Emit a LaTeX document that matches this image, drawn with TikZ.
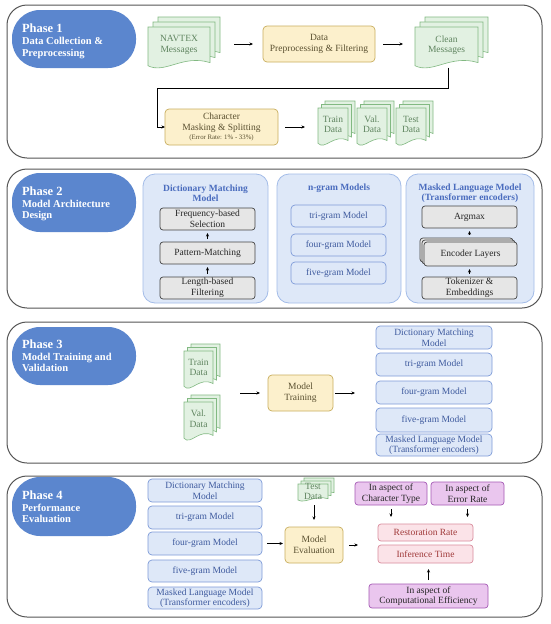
\documentclass[tikz,border=0pt]{standalone}
\usepackage{fontspec}
\setmainfont{Liberation Serif}
\usetikzlibrary{arrows.meta}
\definecolor{pillc}{HTML}{5B86CE}
\definecolor{frame}{HTML}{555555}
\definecolor{yfill}{HTML}{FCF0CC}
\definecolor{ydraw}{HTML}{C9AE5E}
\definecolor{ytext}{HTML}{5A5030}
\definecolor{dfill}{HTML}{E2F1E2}
\definecolor{ddraw}{HTML}{82B982}
\definecolor{dtext}{HTML}{5F845F}
\definecolor{cfill}{HTML}{DEE8F8}
\definecolor{cdraw}{HTML}{A3BCE8}
\definecolor{ctext}{HTML}{4A6CBE}
\definecolor{bdraw}{HTML}{7E9BD8}
\definecolor{btext}{HTML}{3E5A9E}
\definecolor{gfill}{HTML}{E6E6E6}
\definecolor{gdraw}{HTML}{444444}
\definecolor{pfill}{HTML}{FBE3E8}
\definecolor{pdraw}{HTML}{D98C9C}
\definecolor{ptext}{HTML}{A03A3A}
\definecolor{vfill}{HTML}{EAC6EE}
\definecolor{vdraw}{HTML}{A559B5}
\tikzset{
  base/.style={inner sep=0pt, outer sep=0pt, align=center, font=\fontsize{9.5}{11}\selectfont},
  phasebox/.style={draw=frame, line width=1pt, rounded corners=20pt},
  pill/.style={base, fill=pillc, rounded corners=28pt},
  phtitle/.style={inner sep=0pt, outer sep=0pt, text=white, font=\fontsize{12.5}{14}\bfseries\selectfont, anchor=base west},
  phsub/.style={inner sep=0pt, outer sep=0pt, text=white, align=left, font=\fontsize{10.5}{11.5}\bfseries\selectfont, anchor=base west},
  ybox/.style={base, fill=yfill, draw=ydraw, line width=0.7pt, rounded corners=4pt, text=ytext},
  cont/.style={base, fill=cfill, draw=cdraw, line width=0.8pt, rounded corners=12pt},
  ctitle/.style={base, text=ctext, font=\fontsize{9.5}{10.5}\bfseries\selectfont},
  gbox/.style={base, fill=gfill, draw=gdraw, line width=0.7pt, rounded corners=3pt, text=black!85},
  nbox/.style={base, fill=cfill, draw=bdraw, line width=0.7pt, rounded corners=4pt, text=btext},
  mbox/.style={base, fill=cfill, draw=bdraw, line width=0.7pt, rounded corners=4pt, text=btext, font=\fontsize{9.5}{10.5}\selectfont},
  pkbox/.style={base, fill=pfill, draw=pdraw, line width=0.7pt, rounded corners=3pt, text=ptext},
  vbox/.style={base, fill=vfill, draw=vdraw, line width=0.7pt, rounded corners=3pt, text=black!85, font=\fontsize{9.5}{10.5}\selectfont},
  docst/.style={fill=dfill, draw=ddraw, line width=0.6pt},
  doctext/.style={base, text=dtext, font=\fontsize{9.5}{10.5}\selectfont},
  inv/.style={inner sep=0pt, outer sep=0pt},
  arr/.style={-{Stealth[length=3.5pt,width=3pt]}, line width=0.6pt, black},
}
\newcommand\bx[7]{\node[#2, minimum width={#5-#3}, minimum height={#6-#4}] (#1) at ({(#3+#5)/2},{(#4+#6)/2}) {#7};}
\newcommand\docpage[4]{\draw[docst] (#1,#2) -- ({#1+#3},#2) -- ({#1+#3},{#2+0.86*#4}) .. controls ({#1+0.62*#3},{#2+0.70*#4}) and ({#1+0.38*#3},{#2+1.08*#4}) .. (#1,{#2+0.92*#4}) -- cycle;}
\newcommand\docstack[7]{%
  \docpage{#2+2*#6}{#3}{#4-2*#6}{#5-2*#6}%
  \docpage{#2+#6}{#3+#6}{#4-2*#6}{#5-2*#6}%
  \docpage{#2}{#3+2*#6}{#4-2*#6}{#5-2*#6}%
  \node[inv, minimum width={#4}, minimum height={#5}] (#1) at ({#2+#4/2},{#3+#5/2}) {};
  \node[doctext] (#1-t) at ({#2+(#4-2*#6)/2},{#3+2*#6+0.42*(#5-2*#6)}) {#7};}
\begin{document}
\begin{tikzpicture}[x=1pt,y=-1pt]
\useasboundingbox[fill=white] (0,0) rectangle (550,624);
% ---------------- Phase frames
\draw[phasebox] (7,5) rectangle (542,158);
\draw[phasebox] (7,169) rectangle (542,308);
\draw[phasebox] (7,322) rectangle (542,463);
\draw[phasebox] (7,476) rectangle (542,617);
% ---------------- Pills
\bx{pill1}{pill}{12}{10}{136}{68}{}
\node[phtitle] (pt1) at (22,32) {Phase 1};
\node[phsub] (ps1) at (22,56) {Data Collection \&\\Preprocessing};
\bx{pill2}{pill}{12}{173}{136}{232}{}
\node[phtitle] (pt2) at (22,195) {Phase 2};
\node[phsub] (ps2) at (22,218.5) {Model Architecture\\Design};
\bx{pill3}{pill}{12}{327}{136}{385}{}
\node[phtitle] (pt3) at (22,348) {Phase 3};
\node[phsub] (ps3) at (22,371.5) {Model Training and\\Validation};
\bx{pill4}{pill}{12}{477}{136}{536}{}
\node[phtitle] (pt4) at (22,499) {Phase 4};
\node[phsub] (ps4) at (22,522.5) {Performance\\Evaluation};
% ---------------- Phase 1
\docstack{navtex}{148}{17}{72}{53}{5}{NAVTEX\\Messages}
\bx{prep}{ybox}{263}{26}{375}{62}{Data\\Preprocessing \& Filtering}
\docstack{clean}{415}{17}{73}{53}{5}{Clean\\Messages}
\bx{charb}{ybox}{165}{109}{278}{145}{Character\\Masking \& Splitting\\[-1.5pt]{\fontsize{6.8}{8}\selectfont (Error Rate: 1\% - 33\%)}}
\docstack{train1}{318}{101}{37}{46}{3.5}{Train\\Data}
\docstack{val1}{357}{101}{37}{46}{3.5}{Val.\\Data}
\docstack{test1}{396}{101}{37}{46}{3.5}{Test\\Data}
\coordinate (cleanbot) at (448,67.5);
\coordinate (bend1) at (157,88);
\draw[arr, shorten <=14pt, shorten >=10pt] (navtex.east |- prep.west) -- (prep.west);
\draw[arr, shorten <=8pt, shorten >=12pt] (prep.east) -- (clean.west |- prep.east);
\draw[arr] (cleanbot) |- (bend1) |- (charb.west);
\draw[arr, shorten <=7pt, shorten >=13pt] (charb.east) -- (train1.west |- charb.east);
% ---------------- Phase 2
\bx{dictc}{cont}{143}{174}{268}{303}{}
\node[ctitle] (dictt) at (205.5,193) {Dictionary Matching\\Model};
\bx{freq}{gbox}{160}{208}{255}{230}{Frequency-based\\Selection}
\bx{patt}{gbox}{160}{242}{255}{264}{Pattern-Matching}
\bx{lenf}{gbox}{160}{277}{255}{299}{Length-based\\Filtering}
\draw[arr, shorten <=3pt, shorten >=3pt] (lenf) -- (patt);
\draw[arr, shorten <=3pt, shorten >=3pt] (patt) -- (freq);
\bx{ngc}{cont}{277}{174}{401}{303}{}
\node[ctitle] (ngt) at (339,188.5) {n-gram Models};
\bx{tri2}{nbox}{291}{205}{386}{227}{tri-gram Model}
\bx{four2}{nbox}{291}{234}{386}{256}{four-gram Model}
\bx{five2}{nbox}{291}{262}{386}{284}{five-gram Model}
\bx{mlmc}{cont}{406}{174}{534}{303}{}
\node[ctitle] (mlmt) at (470,193) {Masked Language Model\\(Transformer encoders)};
\bx{argmax}{gbox}{422}{206}{517}{228}{Argmax}
\bx{encb}{gbox}{420}{238}{513}{262}{}
\bx{encm}{gbox}{422}{240}{515}{264}{}
\bx{enc}{gbox}{424}{242}{517}{266}{Encoder Layers}
\bx{tok}{gbox}{422}{277}{517}{299}{Tokenizer \&\\Embeddings}
\draw[arr, shorten <=3pt, shorten >=3pt] (tok.north -| argmax) -- (enc.south -| argmax);
\draw[arr, shorten <=3pt, shorten >=3pt] (encb.north -| argmax) -- (argmax.south);
% ---------------- Phase 3
\docstack{train3}{184}{344}{36}{46}{3.5}{Train\\Data}
\docstack{val3}{184}{395}{36}{47}{3.5}{Val.\\Data}
\bx{mtrain}{ybox}{268}{375}{333}{411}{Model\\Training}
\bx{dict3}{mbox}{376}{326}{492}{349}{Dictionary Matching\\Model}
\bx{tri3}{mbox}{376}{353}{492}{376}{tri-gram Model}
\bx{four3}{mbox}{376}{381}{492}{404}{four-gram Model}
\bx{five3}{mbox}{376}{408}{492}{432}{five-gram Model}
\bx{mlm3}{mbox}{376}{434}{492}{456}{Masked Language Model\\(Transformer encoders)}
\draw[arr, shorten <=20pt, shorten >=8pt] (train3.east |- mtrain.west) -- (mtrain.west);
\draw[arr, shorten <=2pt, shorten >=21pt] (mtrain.east) -- (four3.west |- mtrain.east);
% ---------------- Phase 4
\bx{dict4}{mbox}{148}{479}{262}{502}{Dictionary Matching\\Model}
\bx{tri4}{mbox}{148}{506}{262}{529}{tri-gram Model}
\bx{four4}{mbox}{148}{532}{262}{555}{four-gram Model}
\bx{five4}{mbox}{148}{560}{262}{582}{five-gram Model}
\bx{mlm4}{mbox}{148}{587}{262}{609}{Masked Language Model\\(Transformer encoders)}
\docstack{test4}{298}{478}{36}{24}{3}{Test\\Data}
\bx{meval}{ybox}{285}{527}{343}{563}{Model\\Evaluation}
\bx{ctype}{vbox}{355}{482}{427}{505}{In aspect of\\Character Type}
\bx{erate}{vbox}{431}{482}{504}{505}{In aspect of\\Error Rate}
\bx{rest}{pkbox}{378}{524}{473}{541}{Restoration Rate}
\bx{inft}{pkbox}{378}{545}{473}{563}{Inference Time}
\bx{comp}{vbox}{369}{584}{488}{608}{In aspect of\\Computational Efficiency}
\draw[arr, shorten <=5pt, shorten >=2pt] (four4.east) -- (meval.west |- four4.east);
\draw[arr, shorten <=3pt, shorten >=7pt] (test4.south -| meval.north) -- (meval.north);
\draw[arr, shorten <=6pt, shorten >=20pt] (meval.east) -- (rest.west |- meval.east);
\draw[arr, shorten <=4pt, shorten >=7pt] (ctype.south) -- (ctype.south |- rest.north);
\draw[arr, shorten <=4pt, shorten >=7pt] (erate.south) -- (erate.south |- rest.north);
\draw[arr, shorten <=4pt, shorten >=6pt] (comp.north) -- (comp.north |- inft.south);
\end{tikzpicture}
\end{document}
